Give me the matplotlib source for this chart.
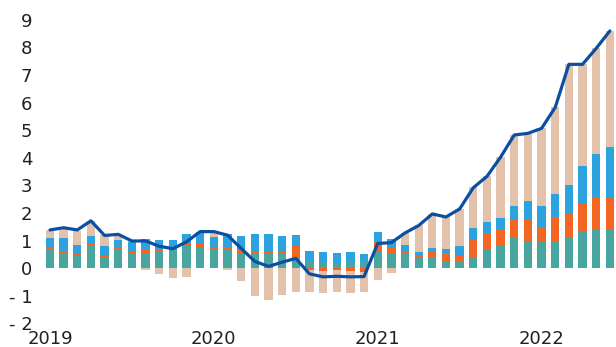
import numpy as np
import matplotlib
matplotlib.use("Agg")
import matplotlib.pyplot as plt
from matplotlib import font_manager

# monthly, Jan 2019 .. Jun 2022
months = np.arange(42)
year_ticks = [0, 12, 24, 36]
year_labels = ['2019', '2020', '2021', '2022']

teal = [0.67, 0.55, 0.46, 0.84, 0.41, 0.70, 0.53, 0.55, 0.60, 0.69, 0.81, 0.76,
        0.67, 0.70, 0.55, 0.55, 0.55, 0.55, 0.36, 0.26, 0.23, 0.18, 0.23, 0.26,
        0.60, 0.52, 0.53, 0.39, 0.41, 0.26, 0.26, 0.41, 0.70, 0.84, 1.13, 0.99,
        0.96, 0.99, 1.11, 1.33, 1.42, 1.40]
orange = [0.08, 0.08, 0.07, 0.05, 0.06, 0.05, 0.07, 0.12, 0.09, 0.00, 0.08, 0.12,
          0.07, 0.07, 0.15, 0.04, 0.05, 0.04, 0.46, -0.07, -0.09, -0.05, -0.09, -0.15,
          0.39, 0.22, 0.08, 0.06, 0.18, 0.28, 0.20, 0.63, 0.56, 0.56, 0.63, 0.80,
          0.51, 0.84, 0.87, 1.04, 1.14, 1.16]
blue = [0.35, 0.47, 0.31, 0.28, 0.34, 0.28, 0.35, 0.39, 0.34, 0.34, 0.35, 0.42,
        0.39, 0.47, 0.47, 0.65, 0.64, 0.58, 0.39, 0.37, 0.36, 0.37, 0.36, 0.26,
        0.33, 0.32, 0.24, 0.14, 0.15, 0.16, 0.35, 0.42, 0.43, 0.42, 0.51, 0.65,
        0.80, 0.87, 1.05, 1.35, 1.59, 1.83]
tan = [0.27, 0.32, 0.52, 0.55, 0.38, 0.20, 0.04, -0.07, -0.21, -0.35, -0.30, 0.03,
       0.20, -0.06, -0.46, -1.00, -1.15, -0.96, -0.86, -0.78, -0.79, -0.80, -0.79, -0.70,
       -0.42, -0.17, 0.43, 0.98, 1.23, 1.17, 1.33, 1.47, 1.65, 2.20, 2.56, 2.45,
       2.80, 3.13, 4.36, 3.67, 3.82, 4.21]
total = [1.39, 1.47, 1.39, 1.72, 1.19, 1.23, 0.99, 0.99, 0.80, 0.71, 0.96, 1.33,
         1.33, 1.20, 0.72, 0.25, 0.07, 0.22, 0.36, -0.20, -0.31, -0.29, -0.31, -0.30,
         0.90, 0.93, 1.28, 1.55, 1.97, 1.86, 2.15, 2.92, 3.33, 4.03, 4.83, 4.89,
         5.07, 5.83, 7.39, 7.39, 7.97, 8.60]

y_ticks = list(range(-2, 10))
y_labels = ['- 2', '- 1'] + [str(v) for v in range(0, 10)]

names = [f.name for f in font_manager.fontManager.ttflist]
if 'Liberation Sans Narrow' in names:
    plt.rcParams['font.family'] = ['Liberation Sans Narrow', 'DejaVu Sans']
else:
    plt.rcParams['font.family'] = ['DejaVu Sans']

fig = plt.figure(figsize=(6.16, 3.47), dpi=100)
ax = fig.add_axes([40 / 616, 23.5 / 347, 576 / 616, 303.6 / 347])

colors = ['#48a5a0', '#f26522', '#2ca3de', '#e3c1ab']
pos = np.zeros(len(months))
neg = np.zeros(len(months))
for vals, c in zip([teal, orange, blue, tan], colors):
    v = np.array(vals)
    bottom = np.where(v >= 0, pos, neg)
    ax.bar(months, v, bottom=bottom, width=0.61, color=c, linewidth=0, zorder=2)
    pos = np.where(v >= 0, pos + v, pos)
    neg = np.where(v < 0, neg + v, neg)

ax.plot(months, total, color='#0b4ea2', linewidth=2.3, zorder=3,
        solid_joinstyle='round', solid_capstyle='round')

ax.set_xlim(-0.73, 41.45)
ax.set_ylim(-2, 9)
ax.set_yticks(y_ticks)
ax.set_yticklabels(y_labels)
ax.set_xticks(year_ticks)
ax.set_xticklabels(year_labels)
ax.tick_params(axis='both', length=0, labelsize=13, colors='#231f20')
ax.tick_params(axis='y', pad=5.5)
ax.tick_params(axis='x', pad=5)
for s in ax.spines.values():
    s.set_visible(False)

fig.savefig('out.png', dpi=100)
